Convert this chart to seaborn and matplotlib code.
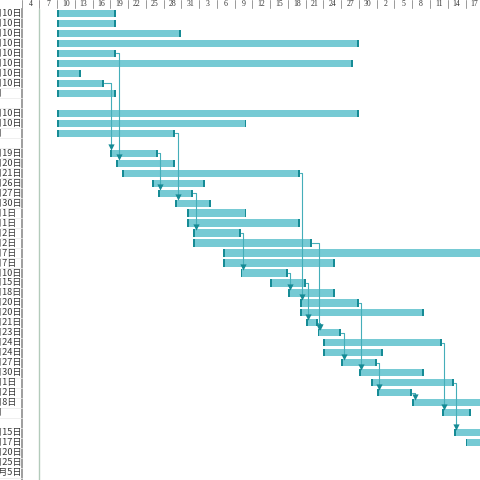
import numpy as np
import pandas as pd
import matplotlib
matplotlib.use("Agg")
import matplotlib.pyplot as plt
import matplotlib.dates as mdates
import seaborn as sns

# row labels (date column, left part is cut off in the screenshot)
labels = ["7月10日"] * 8 + ["7月", "", "7月10日", "7月10日", "7月", "",
          "7月19日", "7月20日", "7月21日", "7月26日", "7月27日", "7月30日",
          "8月1日", "8月1日", "8月2日", "8月2日", "8月7日", "8月7日",
          "8月10日", "8月15日", "8月18日", "8月20日", "8月20日", "8月21日",
          "8月23日", "8月24日", "8月24日", "8月27日", "8月30日", "9月1日",
          "9月2日", "9月8日", "9月", "", "9月15日", "9月17日", "9月20日",
          "9月25日", "10月5日"]

starts = ["07-10"] * 9 + [None, "07-10", "07-10", "07-10", None,
          "07-19", "07-20", "07-21", "07-26", "07-27", "07-30",
          "08-01", "08-01", "08-02", "08-02", "08-07", "08-07",
          "08-10", "08-15", "08-18", "08-20", "08-20", "08-21",
          "08-23", "08-24", "08-24", "08-27", "08-30", "09-01",
          "09-02", "09-08", "09-13", None, "09-15", "09-17", "09-20",
          "09-25", "10-05"]

ends = ["07-20", "07-20", "07-31", "08-30", "07-20", "08-29", "07-14", "07-18",
        "07-20", None, "08-30", "08-11", "07-30", None,
        "07-27", "07-30", "08-20", "08-04", "08-02", "08-05",
        "08-11", "08-20", "08-10", "08-22", "09-30", "08-26",
        "08-18", "08-21", "08-26", "08-30", "09-10", "08-23",
        "08-27", "09-13", "09-03", "09-02", "09-10", "09-15",
        "09-08", "09-30", "09-18", None, "09-25", "09-28", "09-30",
        "10-05", "10-15"]

# finish-to-start links (predecessor row, successor row)
links = [(4, 15), (7, 14), (12, 19), (14, 18), (16, 29), (18, 22), (22, 26),
         (23, 32), (26, 28), (27, 31), (31, 32), (32, 35), (29, 36), (35, 38),
         (38, 39), (33, 40), (37, 42)]

year = "2019-"
df = pd.DataFrame({"label": labels, "start": starts, "end": ends})
df["row"] = np.arange(len(df))
tasks = df.dropna(subset=["start"]).copy()
tasks["s"] = mdates.date2num(pd.to_datetime(year + tasks["start"]))
tasks["e"] = mdates.date2num(pd.to_datetime(year + tasks["end"]))

sns.set_theme(style="white")
plt.rcParams["font.family"] = ["Noto Sans CJK SC", "DejaVu Sans"]

W = H = 480
fig = plt.figure(figsize=(4.8, 4.8), dpi=100)
px_day = 5.92
x_left = 21.5
head_h = 9
x0 = mdates.date2num(pd.Timestamp(year + "07-04"))
x1 = x0 + (W - x_left) / px_day
row_px = 9.98
top_pad = 0.45
n_span = (H - head_h) / row_px

ax = fig.add_axes([x_left / W, 0, (W - x_left) / W, (H - head_h) / H])
ax.set_xlim(x0, x1)
ax.set_ylim(n_span - top_pad, -top_pad)
ax.set_xticks([])
ax.set_yticks([])
for sp in ["top", "right", "bottom"]:
    ax.spines[sp].set_visible(False)
ax.spines["left"].set_color("#8c8c8c")
ax.spines["left"].set_linewidth(1.2)

# project start line
ax.axvline(x0 + 3, color="#b3cbbb", lw=1.0, zorder=0)

bar_c = "#76cad4"
cap_c = "#168b95"
link_c = "#45aeb9"
bh = 0.72
cap_w = 0.33

ax.barh(tasks["row"], tasks["e"] - tasks["s"], left=tasks["s"], height=bh,
        color=bar_c, edgecolor="none", zorder=2)
ax.barh(tasks["row"], cap_w, left=tasks["s"], height=bh, color=cap_c,
        edgecolor="none", zorder=3)
ax.barh(tasks["row"], cap_w, left=tasks["e"] - cap_w, height=bh, color=cap_c,
        edgecolor="none", zorder=3)

tk = tasks.set_index("row")
ax_pts, ay_pts = [], []
for p, s in links:
    xe = tk.loc[p, "e"]
    xv = max(xe + 0.4, tk.loc[s, "s"] + 0.2)
    ys = s - bh / 2 - 0.15
    ax.plot([xe, xv, xv], [p, p, ys], color=link_c, lw=0.8, zorder=4)
    ax_pts.append(xv)
    ay_pts.append(s - bh / 2 - 0.22)
sns.scatterplot(x=ax_pts, y=ay_pts, marker="v", s=20, color=cap_c,
                linewidth=0, ax=ax, legend=False, zorder=5)

# header with day numbers every 3 days
hx = fig.add_axes([x_left / W, (H - head_h) / H, (W - x_left) / W, head_h / H])
hx.set_xlim(x0, x1)
hx.set_ylim(0, 1)
hx.axis("off")
d = x0
while d < x1:
    hx.plot([d, d], [0.1, 1], color="#9a9a9a", lw=0.7)
    day = mdates.num2date(d).day
    hx.text(d + 1.5, 0.5, str(day), ha="center", va="center", fontsize=5.6,
            family=["Liberation Serif", "DejaVu Serif"], color="#333333")
    d += 3
hx.plot([x0, x1], [0.05, 0.05], color="#d0d0d0", lw=0.6)

# label column: left-aligned text whose month prefix is cut off at the edge
fs = 6.6
probe = fig.text(0, 0, "7月", fontsize=fs)
fig.canvas.draw()
w_pref = probe.get_window_extent().width
probe.remove()
tx0 = 2.8 - w_pref
for i, lab in enumerate(labels):
    yc = H - (head_h + (i + top_pad) * row_px)
    if lab:
        fig.text(tx0 / W, yc / H, lab, ha="left", va="center", fontsize=fs,
                 color="#3a3a3a")
    yb = yc - row_px / 2
    fig.add_artist(plt.Line2D([0, x_left / W], [yb / H, yb / H],
                              color="#ececec", lw=0.6))

fig.savefig("out.png", dpi=100)
